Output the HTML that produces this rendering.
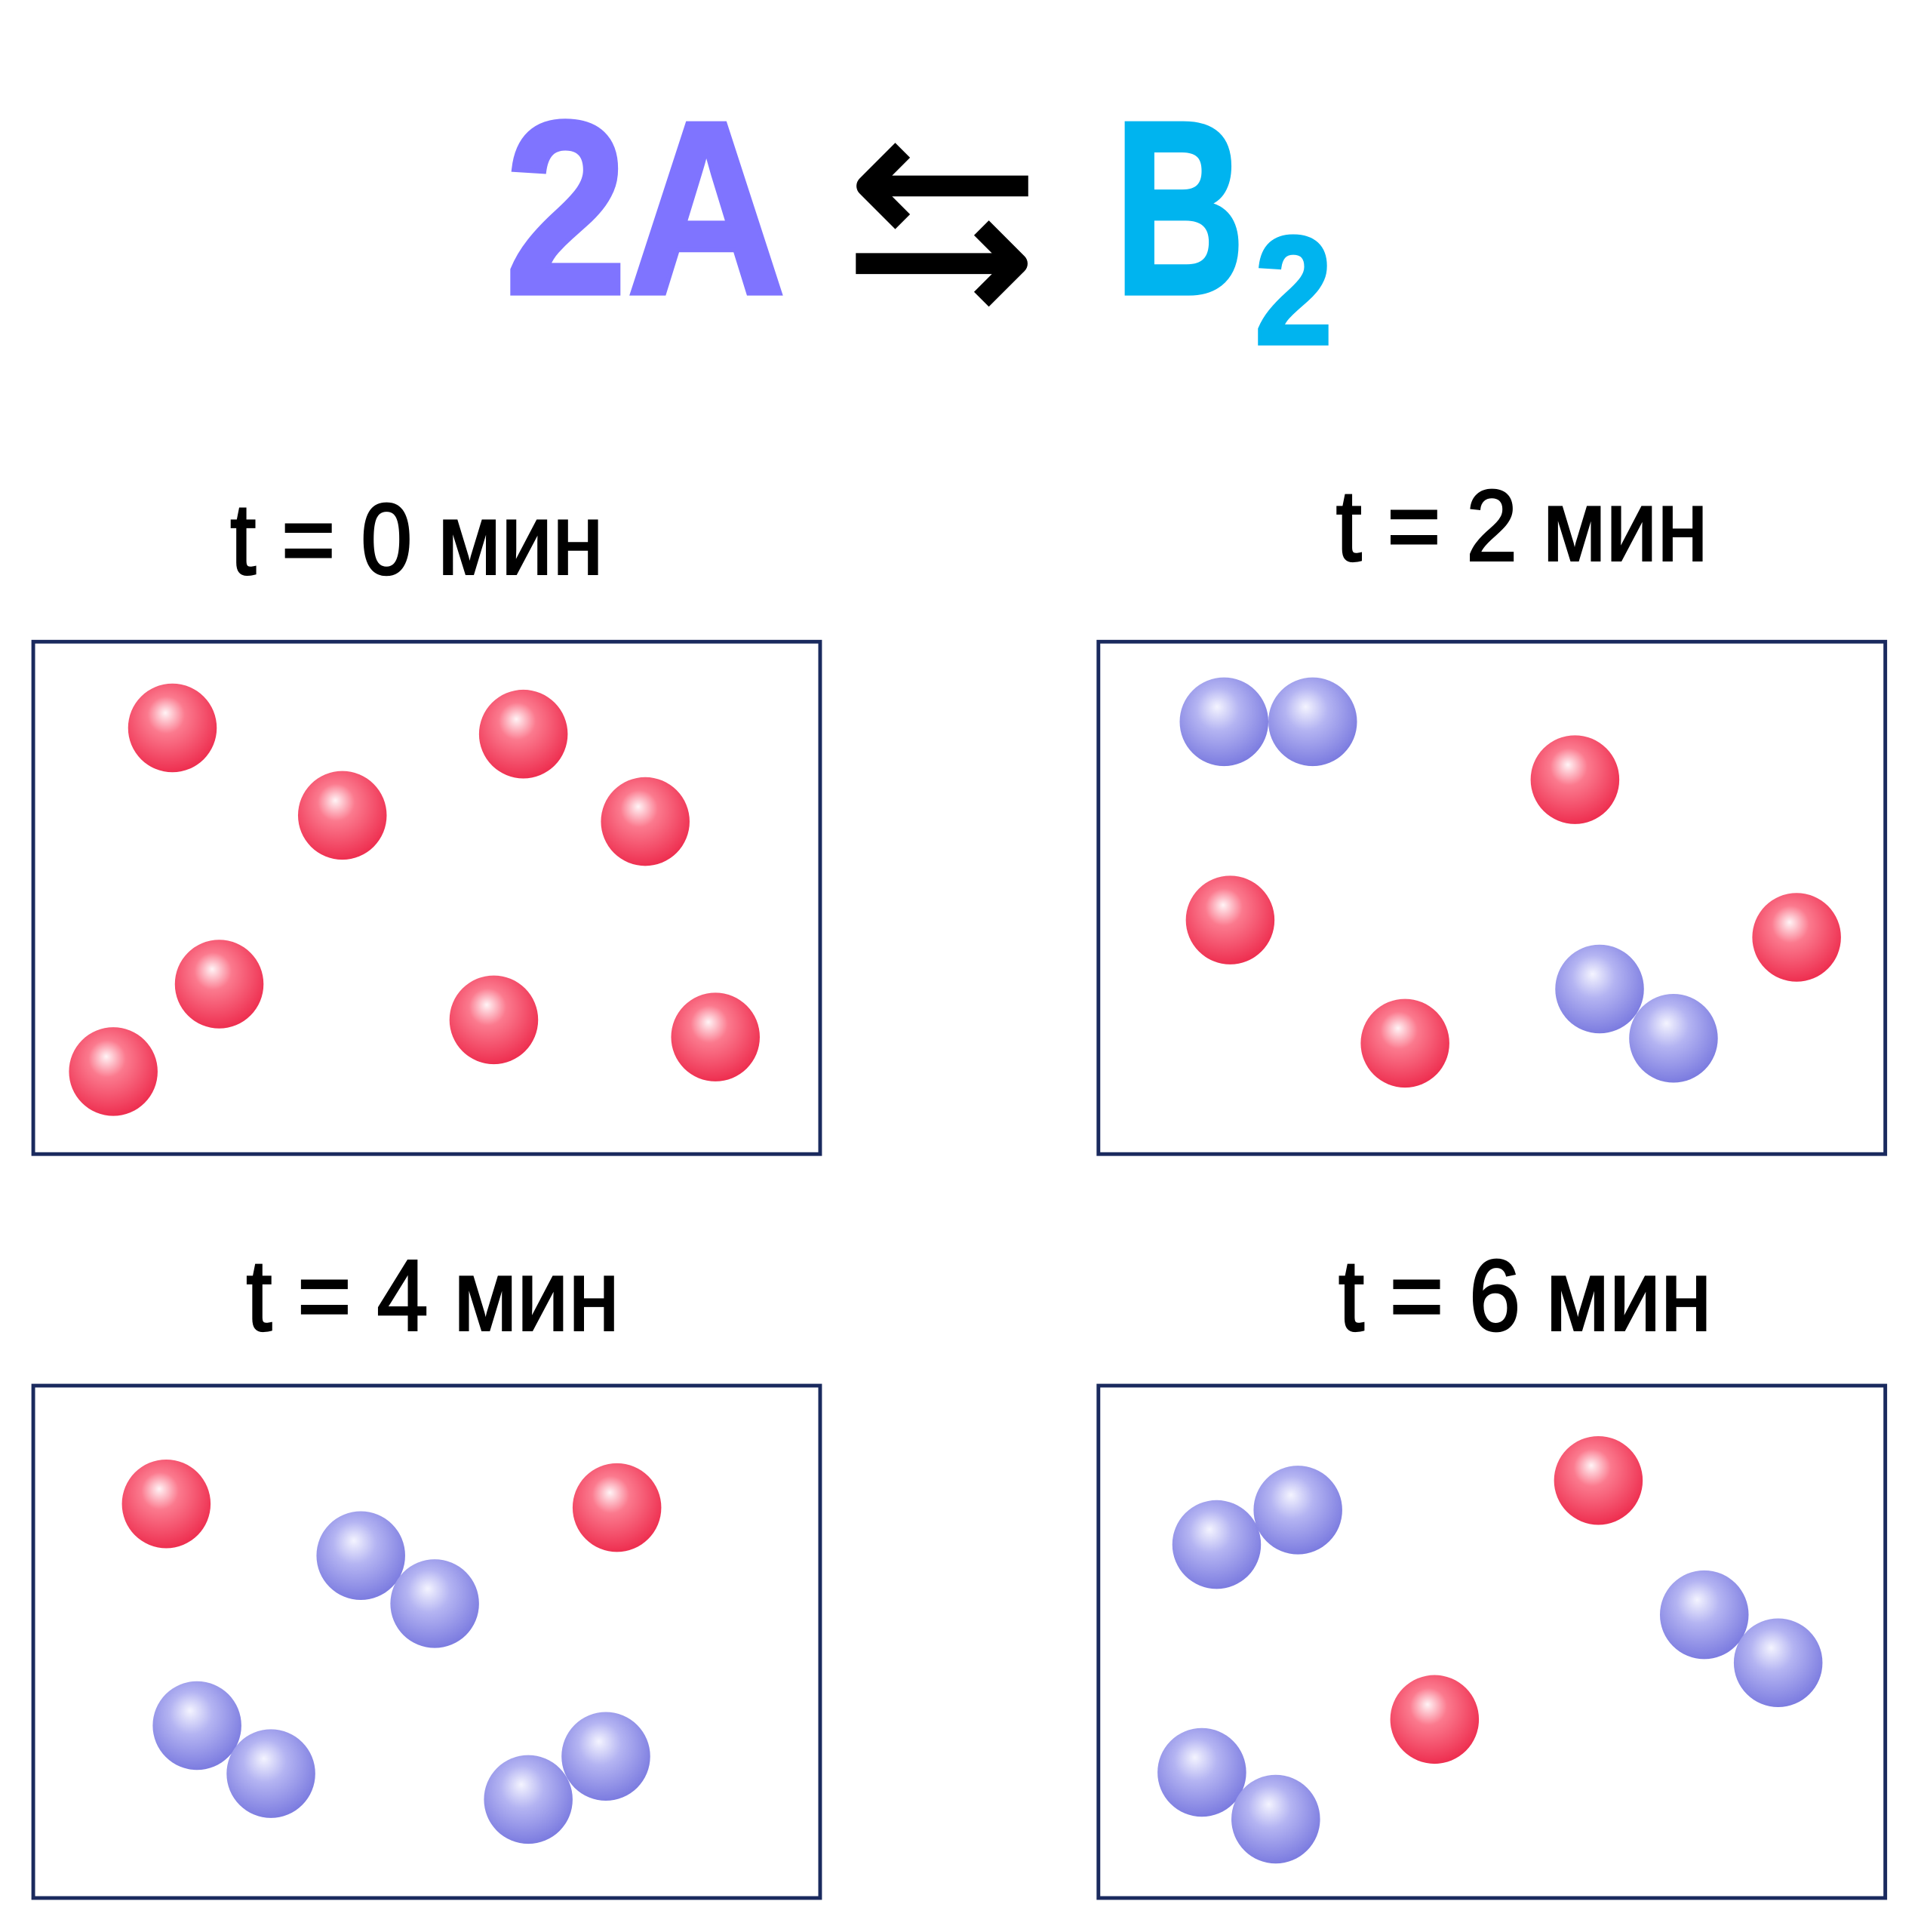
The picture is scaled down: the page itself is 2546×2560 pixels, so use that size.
<!DOCTYPE html>
<html><head><meta charset="utf-8"><style>html,body{margin:0;padding:0;background:#fff}svg{display:block}</style></head>
<body>
<svg width="2546" height="2560" viewBox="0 0 1560 1568.6" xmlns="http://www.w3.org/2000/svg">
<defs>
<radialGradient id="r" cx="0.45" cy="0.4" r="0.6" fx="0.42" fy="0.33">
<stop offset="0" stop-color="#fff4f6"/><stop offset="0.35" stop-color="#fb7a8e"/><stop offset="1" stop-color="#ee2f50"/></radialGradient>
<radialGradient id="b" cx="0.45" cy="0.4" r="0.6" fx="0.42" fy="0.33">
<stop offset="0" stop-color="#f4f4ff"/><stop offset="0.4" stop-color="#b4b4f2"/><stop offset="1" stop-color="#7c7ce0"/></radialGradient>
<symbol id="R" overflow="visible"><circle r="36" fill="url(#r)"/></symbol>
<symbol id="B" overflow="visible"><circle r="36" fill="url(#b)"/></symbol>
</defs>
<text x="410" y="238" font-family="Liberation Sans, sans-serif" font-weight="bold" font-size="200" fill="#7f74ff" stroke="#7f74ff" stroke-width="4" textLength="228" lengthAdjust="spacingAndGlyphs">2A</text>
<text x="905" y="238" font-family="Liberation Sans, sans-serif" font-weight="bold" font-size="200" fill="#00b4ef" stroke="#00b4ef" stroke-width="4" textLength="106" lengthAdjust="spacingAndGlyphs">B</text>
<text x="1019" y="279" font-family="Liberation Sans, sans-serif" font-weight="bold" font-size="125" fill="#00b4ef" stroke="#00b4ef" stroke-width="3" textLength="63" lengthAdjust="spacingAndGlyphs">2</text>
<g stroke="#000" stroke-width="17" fill="none" stroke-linejoin="round">
<line x1="702" y1="151" x2="835" y2="151"/><polyline points="733,122 704,151 733,180"/>
<line x1="695" y1="214" x2="828" y2="214"/><polyline points="797,185 826,214 797,243"/>
</g>
<g font-family="Liberation Sans, sans-serif" font-size="82" fill="#000" stroke="#000" stroke-width="1.8">
<text x="187" y="466" textLength="303" lengthAdjust="spacingAndGlyphs">t = 0 мин</text>
<text x="1085" y="455" textLength="302" lengthAdjust="spacingAndGlyphs">t = 2 мин</text>
<text x="200" y="1080" textLength="303" lengthAdjust="spacingAndGlyphs">t = 4 мин</text>
<text x="1087" y="1080" textLength="303" lengthAdjust="spacingAndGlyphs">t = 6 мин</text>
</g>
<g fill="none" stroke="#1a2a5e" stroke-width="3">
<rect x="27" y="521" width="639" height="416"/><rect x="892" y="521" width="639" height="416"/>
<rect x="27" y="1125" width="639" height="416"/><rect x="892" y="1125" width="639" height="416"/>
</g>
<use href="#R" x="140" y="591"/><use href="#R" x="425" y="596"/><use href="#R" x="278" y="662"/><use href="#R" x="524" y="667"/><use href="#R" x="178" y="799"/><use href="#R" x="92" y="870"/><use href="#R" x="401" y="828"/><use href="#R" x="581" y="842"/>
<use href="#B" x="994" y="586"/><use href="#B" x="1066" y="586"/><use href="#R" x="1279" y="633"/><use href="#R" x="999" y="747"/><use href="#R" x="1459" y="761"/><use href="#R" x="1141" y="847"/><use href="#B" x="1299" y="803"/><use href="#B" x="1359" y="843"/>
<use href="#R" x="135" y="1221"/><use href="#R" x="501" y="1224"/><use href="#B" x="293" y="1263"/><use href="#B" x="353" y="1302"/><use href="#B" x="160" y="1401"/><use href="#B" x="220" y="1440"/><use href="#B" x="492" y="1426"/><use href="#B" x="429" y="1461"/>
<use href="#B" x="1054" y="1226"/><use href="#B" x="988" y="1254"/><use href="#R" x="1298" y="1202"/><use href="#R" x="1165" y="1396"/><use href="#B" x="1384" y="1311"/><use href="#B" x="1444" y="1350"/><use href="#B" x="976" y="1439"/><use href="#B" x="1036" y="1477"/>
</svg>
</body></html>
